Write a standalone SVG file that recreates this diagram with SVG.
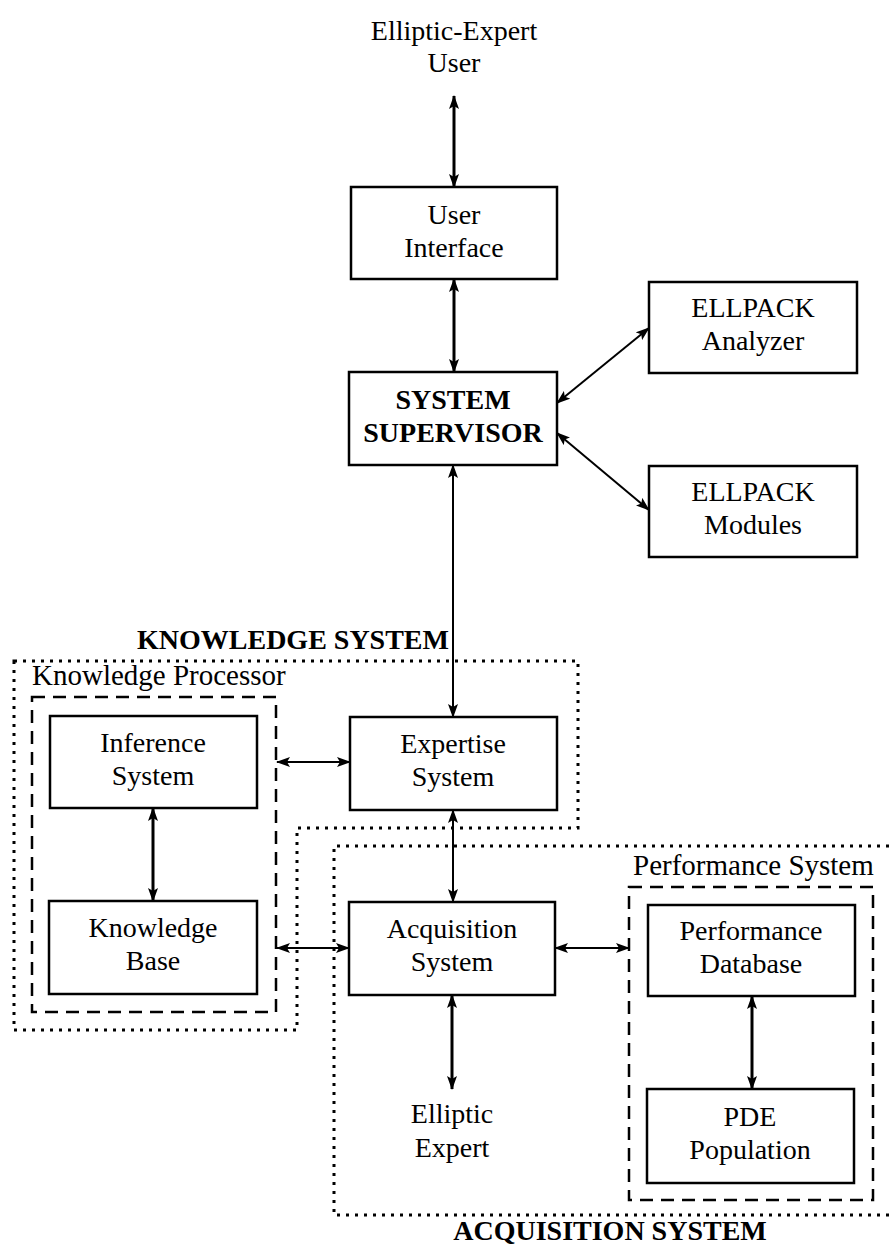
<svg xmlns="http://www.w3.org/2000/svg" width="889" height="1247" viewBox="0 0 889 1247">
  <style>
    .box { fill: #fff; stroke: #000; stroke-width: 2.5; }
    .lbl { font-family: "Liberation Serif", "Times New Roman", serif; font-size: 28px; fill: #000; text-anchor: middle; }
    .bold { font-weight: bold; }
    .cap { font-family: "Liberation Serif", "Times New Roman", serif; font-size: 29px; fill: #000; }
    .title { font-family: "Liberation Serif", "Times New Roman", serif; font-size: 28px; font-weight: bold; fill: #000; text-anchor: middle; }
    .dotted { fill: none; stroke: #000; stroke-width: 3; stroke-dasharray: 3 6; }
    .dashed { fill: none; stroke: #000; stroke-width: 2.5; stroke-dasharray: 13 8; }
    .link { fill: none; stroke: #000; stroke-width: 3; marker-start: url(#ah); marker-end: url(#ah); }
    .thin { stroke-width: 2; }
  </style>
  <defs>
    <marker id="ah" viewBox="0 0 14 10" refX="13" refY="5" markerWidth="14" markerHeight="10" markerUnits="userSpaceOnUse" orient="auto-start-reverse">
      <path d="M0,0 L14,5 L0,10 L3,5 z" fill="#000"/>
    </marker>
  </defs>

  <rect width="889" height="1247" fill="#fff"/>

  <!-- grouping outlines -->
  <g id="knowledge-system">
    <path class="dotted" d="M14,661 H578 V828 H297 V1030 H14 Z"/>
    <text class="title" x="293" y="649">KNOWLEDGE SYSTEM</text>
  </g>
  <g id="knowledge-processor">
    <rect class="dashed" x="32" y="697" width="244" height="315"/>
    <text class="cap" x="32" y="685">Knowledge Processor</text>
  </g>
  <g id="acquisition-system">
    <path class="dotted" d="M889,846 H334 V1215 H889"/>
    <text class="title" x="610" y="1240">ACQUISITION SYSTEM</text>
  </g>
  <g id="performance-system">
    <rect class="dashed" x="629" y="887" width="244" height="313"/>
    <text class="cap" x="633" y="875">Performance System</text>
  </g>

  <!-- connectors -->
  <g id="connectors">
    <line class="link" x1="454" y1="96" x2="454" y2="187"/>
    <line class="link" x1="454" y1="279" x2="454" y2="372"/>
    <line class="link thin" x1="557" y1="403" x2="649" y2="328"/>
    <line class="link thin" x1="557" y1="433" x2="649" y2="510"/>
    <line class="link thin" x1="453" y1="465" x2="453" y2="717"/>
    <line class="link thin" x1="277" y1="762" x2="350" y2="762"/>
    <line class="link" x1="153" y1="808" x2="153" y2="901"/>
    <line class="link thin" x1="453" y1="810" x2="453" y2="902"/>
    <line class="link thin" x1="277" y1="948" x2="349" y2="948"/>
    <line class="link thin" x1="555" y1="948" x2="629" y2="948"/>
    <line class="link" x1="452" y1="995" x2="452" y2="1089"/>
    <line class="link" x1="752" y1="996" x2="752" y2="1089"/>
  </g>

  <!-- nodes -->
  <g id="elliptic-expert-user">
    <text class="lbl" x="454" y="40">Elliptic-Expert</text>
    <text class="lbl" x="454" y="72">User</text>
  </g>
  <g id="user-interface">
    <rect class="box" x="351" y="187" width="206" height="92"/>
    <text class="lbl" x="454" y="224">User</text>
    <text class="lbl" x="454" y="257">Interface</text>
  </g>
  <g id="system-supervisor">
    <rect class="box" x="349" y="372" width="208" height="93"/>
    <text class="lbl bold" x="453" y="409">SYSTEM</text>
    <text class="lbl bold" x="453" y="442">SUPERVISOR</text>
  </g>
  <g id="ellpack-analyzer">
    <rect class="box" x="649" y="282" width="208" height="91"/>
    <text class="lbl" x="753" y="317">ELLPACK</text>
    <text class="lbl" x="753" y="350">Analyzer</text>
  </g>
  <g id="ellpack-modules">
    <rect class="box" x="649" y="466" width="208" height="91"/>
    <text class="lbl" x="753" y="501">ELLPACK</text>
    <text class="lbl" x="753" y="534">Modules</text>
  </g>
  <g id="inference-system">
    <rect class="box" x="50" y="716" width="207" height="92"/>
    <text class="lbl" x="153" y="752">Inference</text>
    <text class="lbl" x="153" y="785">System</text>
  </g>
  <g id="expertise-system">
    <rect class="box" x="350" y="717" width="207" height="93"/>
    <text class="lbl" x="453" y="753">Expertise</text>
    <text class="lbl" x="453" y="786">System</text>
  </g>
  <g id="knowledge-base">
    <rect class="box" x="49" y="901" width="208" height="93"/>
    <text class="lbl" x="153" y="937">Knowledge</text>
    <text class="lbl" x="153" y="970">Base</text>
  </g>
  <g id="acquisition-system-node">
    <rect class="box" x="349" y="902" width="206" height="93"/>
    <text class="lbl" x="452" y="938">Acquisition</text>
    <text class="lbl" x="452" y="971">System</text>
  </g>
  <g id="performance-database">
    <rect class="box" x="648" y="905" width="207" height="91"/>
    <text class="lbl" x="751" y="940">Performance</text>
    <text class="lbl" x="751" y="973">Database</text>
  </g>
  <g id="pde-population">
    <rect class="box" x="647" y="1089" width="207" height="94"/>
    <text class="lbl" x="750" y="1126">PDE</text>
    <text class="lbl" x="750" y="1159">Population</text>
  </g>
  <g id="elliptic-expert">
    <text class="lbl" x="452" y="1123">Elliptic</text>
    <text class="lbl" x="452" y="1157">Expert</text>
  </g>
</svg>
